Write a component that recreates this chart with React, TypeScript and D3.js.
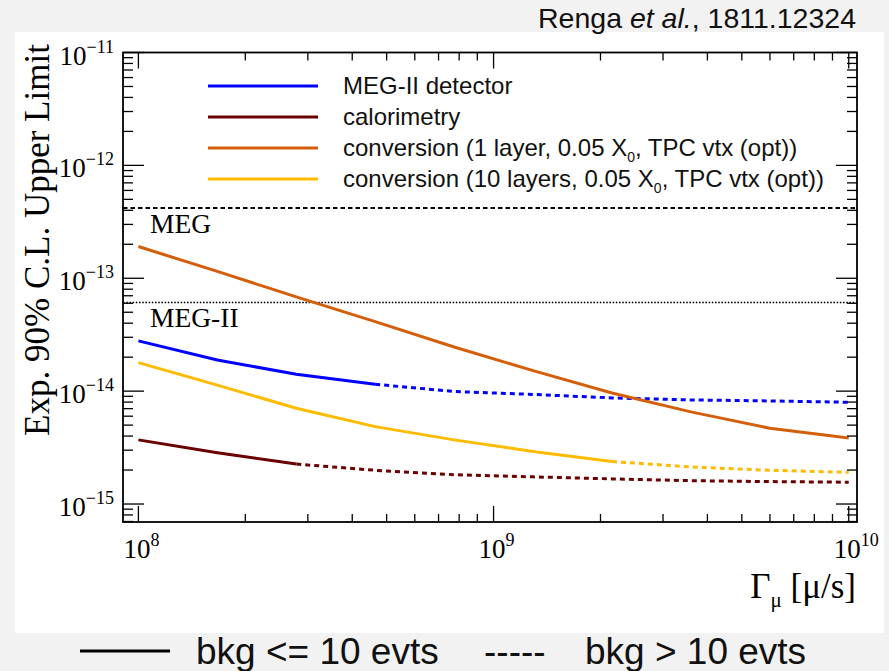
import React from "react";
import * as d3 from "d3";

// ---------- data ----------
const gamma = [1e8, 1.668e8, 2.783e8, 4.642e8, 7.743e8, 1.292e9, 2.154e9, 3.594e9, 5.995e9, 1e10];
const megII = [2.79e-14, 1.89e-14, 1.41e-14, 1.15e-14, 9.93e-15, 9.35e-15, 8.71e-15, 8.36e-15, 8.19e-15, 7.97e-15];
const calorimetry = [3.7e-15, 2.85e-15, 2.26e-15, 1.99e-15, 1.82e-15, 1.74e-15, 1.67e-15, 1.61e-15, 1.58e-15, 1.56e-15];
const conv1 = [1.91e-13, 1.15e-13, 6.84e-14, 4.13e-14, 2.46e-14, 1.52e-14, 9.64e-15, 6.55e-15, 4.69e-15, 3.85e-15];
const conv10 = [1.79e-14, 1.13e-14, 7.06e-15, 4.85e-15, 3.7e-15, 2.92e-15, 2.38e-15, 2.13e-15, 1.99e-15, 1.91e-15];
const seriesNames = ["MEG-II detector", "calorimetry", "conversion (1 layer, 0.05 X", "conversion (10 layers, 0.05 X"];
const seriesValues = [megII, calorimetry, conv1, conv10];
const solidUntil = [3, 2, 9, 6]; // last index drawn solid (bkg <= 10 evts)
const seriesColors = ["#0000ff", "#6b0000", "#d45f0a", "#ffbb00"];
const limitNames = ["MEG", "MEG-II"];
const limitValues = [4.2e-13, 6.1e-14];
const yMajorTicks = [1e-11, 1e-12, 1e-13, 1e-14, 1e-15];
const yMajorLabels = ["−11", "−12", "−13", "−14", "−15"];
const xMajorTicks = [1e8, 1e9, 1e10];
const xMajorLabels = ["8", "9", "10"];

const W = 889;
const H = 671;
const L = 123, R = 857, T = 52.5, B = 522;

export default function App() {
  const x = d3.scaleLog().domain([9.05e7, 1.055e10]).range([L, R]);
  const y = d3.scaleLog().domain([6.93e-16, 1e-11]).range([B, T]);

  const xTicks = x.ticks(); // 1..9 per decade
  const yTicks = y.ticks();
  const isMajor = (v: number) => Math.abs(Math.log10(v) - Math.round(Math.log10(v))) < 1e-6;

  const line = d3
    .line<[number, number]>()
    .x((d) => x(d[0]))
    .y((d) => y(d[1]));

  const serif = "'Liberation Serif', 'Times New Roman', serif";
  const sans = "'Liberation Sans', Arial, sans-serif";

  return (
    <svg
      width={W}
      height={H}
      style={{ position: "absolute", left: 0, top: 0, display: "block" }}
      xmlns="http://www.w3.org/2000/svg"
    >
      <rect x={0} y={0} width={W} height={H} fill="#f2f2f2" />
      <rect x={15} y={32} width={869} height={601} fill="#ffffff" />

      {/* title */}
      <text x={856} y={28} textAnchor="end" fontFamily={sans} fontSize={28.5} fill="#111">
        Renga <tspan fontStyle="italic">et al.</tspan>, 1811.12324
      </text>

      <defs>
        <clipPath id="plotclip">
          <rect x={L} y={T} width={R - L} height={B - T} />
        </clipPath>
      </defs>

      {/* limit lines */}
      {limitValues.map((v, i) => (
        <line
          key={"lim" + i}
          x1={L}
          x2={R}
          y1={y(v)}
          y2={y(v)}
          stroke="#000"
          strokeWidth={i === 0 ? 2 : 1.6}
          strokeDasharray={i === 0 ? "4.5,3" : "1.6,1.6"}
        />
      ))}
      {limitNames.map((n, i) => (
        <text
          key={"limt" + i}
          x={150}
          y={y(limitValues[i]) + 25}
          fontFamily={serif}
          fontSize={27.5}
          fill="#000"
        >
          {n}
        </text>
      ))}

      {/* series */}
      <g clipPath="url(#plotclip)">
        {seriesValues.map((vals, i) => {
          const pts: [number, number][] = gamma.map((g, j) => [g, vals[j]]);
          const solid = pts.slice(0, solidUntil[i] + 1);
          const dashed = pts.slice(solidUntil[i]);
          return (
            <g key={"s" + i}>
              <path d={line(solid) || ""} fill="none" stroke={seriesColors[i]} strokeWidth={3} />
              {dashed.length > 1 && (
                <path
                  d={line(dashed) || ""}
                  fill="none"
                  stroke={seriesColors[i]}
                  strokeWidth={3}
                  strokeDasharray="5,4"
                />
              )}
            </g>
          );
        })}
      </g>

      {/* frame */}
      <rect x={L} y={T} width={R - L} height={B - T} fill="none" stroke="#000" strokeWidth={1.8} />

      {/* y ticks */}
      {yTicks.map((t, i) => {
        const len = isMajor(t) ? 21 : 10;
        const yy = y(t);
        return (
          <g key={"yt" + i}>
            <line x1={L} x2={L + len} y1={yy} y2={yy} stroke="#000" strokeWidth={1.3} />
            <line x1={R - len} x2={R} y1={yy} y2={yy} stroke="#000" strokeWidth={1.3} />
          </g>
        );
      })}
      {/* x ticks */}
      {xTicks.map((t, i) => {
        const len = isMajor(t) ? 16 : 8;
        const xx = x(t);
        return (
          <g key={"xt" + i}>
            <line x1={xx} x2={xx} y1={B} y2={B - len} stroke="#000" strokeWidth={1.3} />
            <line x1={xx} x2={xx} y1={T} y2={T + len} stroke="#000" strokeWidth={1.3} />
          </g>
        );
      })}

      {/* y tick labels */}
      {yMajorTicks.map((t, i) => (
        <text
          key={"yl" + i}
          x={114}
          y={y(t) + 12}
          textAnchor="end"
          fontFamily={serif}
          fontSize={27}
          fill="#000"
        >
          10
          <tspan fontSize={18} dy={-12}>
            {yMajorLabels[i]}
          </tspan>
        </text>
      ))}

      {/* x tick labels */}
      {xMajorTicks.map((t, i) => (
        <text
          key={"xl" + i}
          x={x(t) - 15}
          y={558}
          fontFamily={serif}
          fontSize={27}
          fill="#000"
        >
          10
          <tspan fontSize={18} dy={-12}>
            {xMajorLabels[i]}
          </tspan>
        </text>
      ))}

      {/* axis titles */}
      <text
        transform={`translate(49,${240}) rotate(-90)`}
        textAnchor="middle"
        fontFamily={serif}
        fontSize={35}
        fill="#000"
      >
        Exp. 90% C.L. Upper Limit
      </text>
      <text x={856} y={598} textAnchor="end" fontFamily={serif} fontSize={35} fill="#000">
        Γ
        <tspan fontSize={21} dy={9}>
          μ
        </tspan>
        <tspan dy={-9}> [μ/s]</tspan>
      </text>

      {/* legend */}
      {seriesNames.map((n, i) => {
        const ly = 86 + i * 31;
        return (
          <g key={"lg" + i}>
            <line x1={208} x2={318} y1={ly} y2={ly} stroke={seriesColors[i]} strokeWidth={3} />
            <text x={343} y={ly + 8} fontFamily={sans} fontSize={24} fill="#111">
              {n}
              {i >= 2 && (
                <>
                  <tspan fontSize={14} dy={6}>
                    0
                  </tspan>
                  <tspan dy={-6}>, TPC vtx (opt))</tspan>
                </>
              )}
            </text>
          </g>
        );
      })}

      {/* bottom legend */}
      <line x1={80} x2={170} y1={651} y2={651} stroke="#000" strokeWidth={3} />
      <text x={196} y={664} fontFamily={sans} fontSize={37} fill="#111">
        bkg &lt;= 10 evts
      </text>
      <text x={484} y={664} fontFamily={sans} fontSize={37} fill="#111">
        -----
      </text>
      <text x={585} y={664} fontFamily={sans} fontSize={37} fill="#111">
        bkg &gt; 10 evts
      </text>
    </svg>
  );
}
